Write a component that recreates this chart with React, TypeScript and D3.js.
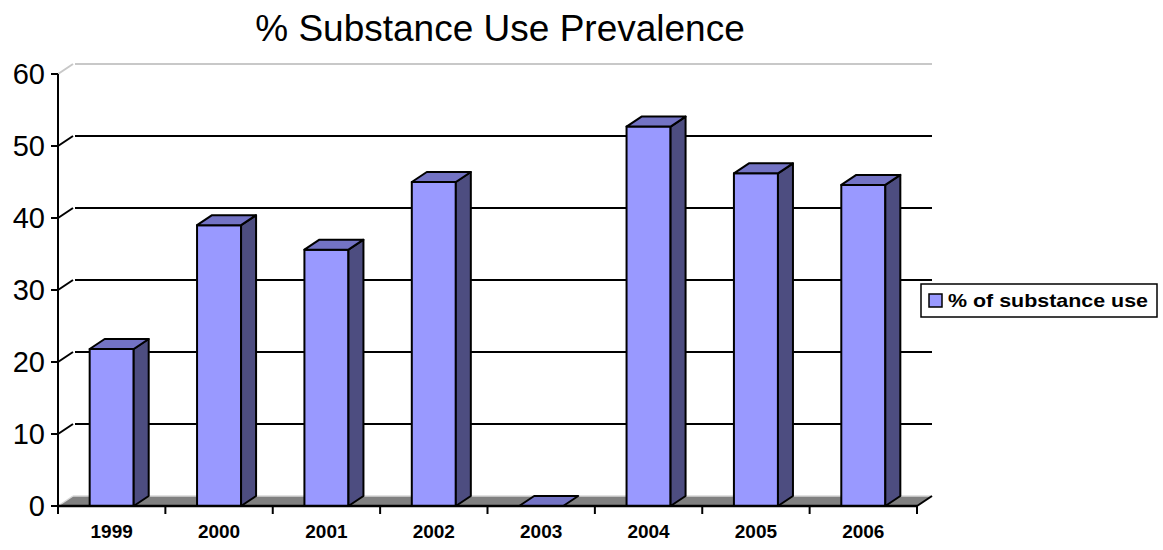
import React from "react";
import * as d3 from "d3";

const years = ["1999", "2000", "2001", "2002", "2003", "2004", "2005", "2006"];
const values = [21.8, 39.0, 35.6, 45.0, 0, 52.7, 46.2, 44.6];
const yTicks = [0, 10, 20, 30, 40, 50, 60];
const title = "% Substance Use Prevalence";
const seriesName = "% of substance use";

const W = 1163;
const H = 550;
const X0 = 58;
const X1 = 917;
const Y0 = 506;
const YTOP = 74;
const DX = 15;
const DY = -10;
const FONT = "Arial, 'Liberation Sans', sans-serif";
const FRONT = "#9999ff";
const TOP = "#7373c4";
const SIDE = "#4d4d80";

export default function App() {
  const y = d3.scaleLinear().domain([0, 60]).range([Y0, YTOP]);
  const x = d3
    .scaleBand<string>()
    .domain(years)
    .range([X0, X1])
    .paddingInner(0.59)
    .paddingOuter(0.295);
  const bw = x.bandwidth();
  const boundaries = d3.range(years.length + 1).map((i) => X0 + (i * (X1 - X0)) / years.length);
  const pts = (a: number[][]) => a.map((p) => p.join(",")).join(" ");

  return (
    <svg
      width={W}
      height={H}
      style={{ position: "absolute", left: 0, top: 0, background: "#fff" }}
      fontFamily={FONT}
    >
      <text x={500} y={41} fontSize={37} textAnchor="middle" fill="#000">
        {title}
      </text>

      {/* floor */}
      <polygon
        points={pts([
          [X0, Y0],
          [X1, Y0],
          [X1 + DX, Y0 + DY],
          [X0 + DX, Y0 + DY],
        ])}
        fill="#808080"
      />
      <line x1={X0 + DX} y1={Y0 + DY} x2={X1 + DX} y2={Y0 + DY} stroke="#d9d9d9" strokeWidth={1.5} />
      <line x1={X0} y1={Y0} x2={X0 + DX} y2={Y0 + DY} stroke="#d9d9d9" strokeWidth={1.5} />
      <line x1={X1} y1={Y0} x2={X1 + DX} y2={Y0 + DY} stroke="#000" strokeWidth={2} />

      {/* gridlines on back wall and left wall diagonals */}
      {yTicks
        .filter((v) => v > 0)
        .map((v) => {
          const top = v === 60;
          const c = top ? "#c8c8c8" : "#000";
          return (
            <g key={v}>
              <line x1={X0} y1={y(v)} x2={X0 + DX} y2={y(v) + DY} stroke={c} strokeWidth={2} />
              <line x1={X0 + DX + 2} y1={y(v) + DY} x2={X1 + DX} y2={y(v) + DY} stroke={c} strokeWidth={2} />
            </g>
          );
        })}

      {/* bars */}
      {years.map((yr, i) => {
        const v = values[i];
        const bx = x(yr) as number;
        const yt = y(v);
        const h = Y0 - yt;
        return (
          <g key={yr} stroke="#000" strokeWidth={2} strokeLinejoin="round">
            {h > 0 && (
              <>
                <rect x={bx} y={yt} width={bw} height={h} fill={FRONT} />
                <polygon
                  points={pts([
                    [bx + bw, yt],
                    [bx + bw + DX, yt + DY],
                    [bx + bw + DX, Y0 + DY],
                    [bx + bw, Y0],
                  ])}
                  fill={SIDE}
                />
              </>
            )}
            <polygon
              points={pts([
                [bx, yt],
                [bx + DX, yt + DY],
                [bx + bw + DX, yt + DY],
                [bx + bw, yt],
              ])}
              fill={TOP}
            />
          </g>
        );
      })}

      {/* axes */}
      <line x1={X0} y1={YTOP} x2={X0} y2={Y0} stroke="#000" strokeWidth={2} />
      <line x1={X0} y1={Y0} x2={X1} y2={Y0} stroke="#000" strokeWidth={2.5} />
      {yTicks.map((v) => (
        <g key={v}>
          <line x1={X0 - 7} y1={y(v)} x2={X0} y2={y(v)} stroke="#000" strokeWidth={2} />
          <text x={45} y={y(v) + 10} fontSize={29} textAnchor="end" fill="#000">
            {v}
          </text>
        </g>
      ))}
      {boundaries.map((bxp, i) => (
        <line key={i} x1={bxp} y1={Y0} x2={bxp} y2={Y0 + 8} stroke="#000" strokeWidth={2} />
      ))}
      {years.map((yr) => (
        <text
          key={yr}
          x={(x(yr) as number) + bw / 2}
          y={538}
          fontSize={19}
          fontWeight="bold"
          textAnchor="middle"
          fill="#000"
        >
          {yr}
        </text>
      ))}

      {/* legend */}
      <rect x={921} y={284} width={236} height={33} fill="#fff" stroke="#000" strokeWidth={1.5} />
      <rect x={929} y={294} width={13} height={13} fill={FRONT} stroke="#000" strokeWidth={1.5} />
      <text
        x={948}
        y={307}
        fontSize={19}
        fontWeight="bold"
        fill="#000"
        textLength={200}
        lengthAdjust="spacingAndGlyphs"
      >
        {seriesName}
      </text>
    </svg>
  );
}
